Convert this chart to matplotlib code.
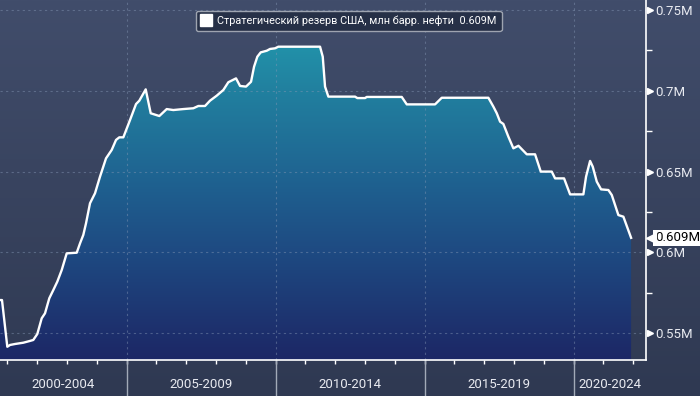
import numpy as np
import matplotlib
matplotlib.use("Agg")
import matplotlib.pyplot as plt
import matplotlib.transforms as mtransforms
from matplotlib.colors import LinearSegmentedColormap
from matplotlib.lines import Line2D

plt.rcParams["font.family"] = ["Roboto", "DejaVu Sans"]

# decimal year / reserve level (shown as "M")
YEARS = [2000.755, 2000.822, 2001.000, 2001.091, 2001.258, 2001.537, 2001.762, 2001.872,
         2002.007, 2002.154, 2002.265, 2002.409, 2002.544, 2002.678, 2002.826, 2002.993,
         2003.329, 2003.440, 2003.550, 2003.641, 2003.775, 2003.943, 2004.111, 2004.312,
         2004.503, 2004.648, 2004.758, 2004.893, 2005.117, 2005.319, 2005.430, 2005.644,
         2005.812, 2006.101, 2006.349, 2006.570, 2006.906, 2007.242, 2007.409, 2007.634,
         2007.802, 2008.027, 2008.248, 2008.416, 2008.674, 2008.809, 2009.010, 2009.178,
         2009.279, 2009.389, 2009.503, 2009.705, 2009.815, 2009.983, 2010.094, 2011.493,
         2011.584, 2011.661, 2011.772, 2012.668, 2012.745, 2013.003, 2013.060, 2014.235,
         2014.403, 2015.352, 2015.577, 2017.141, 2017.309, 2017.423, 2017.534, 2017.644,
         2017.812, 2017.980, 2018.150, 2018.430, 2018.708, 2018.899, 2019.268, 2019.379,
         2019.681, 2019.883, 2020.329, 2020.419, 2020.554, 2020.644, 2020.778, 2020.923,
         2021.168, 2021.282, 2021.503, 2021.671, 2021.930]
RESERVE = [0.5705, 0.5705, 0.5416, 0.5427, 0.5433, 0.5441, 0.5452, 0.5458,
           0.5495, 0.5592, 0.5623, 0.5716, 0.5767, 0.5819, 0.5891, 0.5994,
           0.5998, 0.6056, 0.6108, 0.6180, 0.6304, 0.6366, 0.6469, 0.6582,
           0.6634, 0.6696, 0.6712, 0.6712, 0.6819, 0.6918, 0.6939, 0.7009,
           0.6861, 0.6844, 0.6887, 0.6881, 0.6887, 0.6892, 0.6906, 0.6906,
           0.6939, 0.6970, 0.7005, 0.7053, 0.7077, 0.7030, 0.7026, 0.7056,
           0.7149, 0.7211, 0.7238, 0.7248, 0.7259, 0.7263, 0.7273, 0.7273,
           0.7211, 0.7026, 0.6964, 0.6964, 0.6955, 0.6955, 0.6962, 0.6962,
           0.6916, 0.6916, 0.6957, 0.6957, 0.6902, 0.6861, 0.6809, 0.6795,
           0.6716, 0.6644, 0.6660, 0.6607, 0.6607, 0.6500, 0.6500, 0.6458,
           0.6458, 0.6359, 0.6359, 0.6469, 0.6566, 0.6530, 0.6438, 0.6390,
           0.6386, 0.6355, 0.6231, 0.6221, 0.6090]

Y_TICKS = [0.55, 0.6, 0.65, 0.7, 0.75]
Y_LABELS = ["0.55M", "0.6M", "0.65M", "0.7M", "0.75M"]
Y_MINOR = [0.575, 0.625, 0.675, 0.725]
YEAR_TICKS = list(range(2001, 2023))
PERIODS = [(2000, 2004), (2005, 2009), (2010, 2014), (2015, 2019), (2020, 2024)]
SERIES_NAME = "Стратегический резерв США, млн барр. нефти"

XLIM = (2000.755, 2022.43)
YLIM = (0.5334, 0.7562)

fig = plt.figure(figsize=(7.0, 3.96), dpi=100)

# background gradient over the whole figure
bg = fig.add_axes([0, 0, 1, 1], zorder=0)
bg.axis("off")
bg_cmap = LinearSegmentedColormap.from_list("bg", ["#414d6b", "#2f3952"])
bg.imshow(np.linspace(0, 1, 256).reshape(-1, 1), cmap=bg_cmap, aspect="auto",
          extent=[0, 1, 0, 1])

ax = fig.add_axes([0, 36 / 396, 646 / 700, 360 / 396], zorder=1)
ax.patch.set_alpha(0)

# gradient fill under the line
poly = ax.fill_between(YEARS, RESERVE, YLIM[0], facecolor="none", edgecolor="none")
fill_cmap = LinearSegmentedColormap.from_list(
    "fill", [(0.0, "#2291a9"), (0.14, "#21809f"), (0.40, "#1f6592"),
             (0.655, "#1e4a82"), (0.91, "#1d306d"), (1.0, "#1c2766")])
im = ax.imshow(np.linspace(0, 1, 256).reshape(-1, 1), cmap=fill_cmap, aspect="auto",
               extent=[YEARS[0], YEARS[-1], YLIM[0], max(RESERVE)], zorder=1)
im.set_clip_path(poly.get_paths()[0], transform=ax.transData)

ax.plot(YEARS, RESERVE, color="white", lw=1.7, zorder=3, solid_joinstyle="round")

ax.set_xlim(*XLIM)
ax.set_ylim(*YLIM)

# grid (drawn over the fill, under the line)
grid_kw = dict(color="#8799b6", alpha=0.45, linestyle=(0, (2, 3)), lw=0.8, zorder=2)
for v in Y_TICKS:
    ax.axhline(v, **grid_kw)
for p in PERIODS[1:]:
    ax.axvline(p[0], **grid_kw)

for s in ["left", "top"]:
    ax.spines[s].set_visible(False)
for s in ["bottom", "right"]:
    ax.spines[s].set_color("white")
    ax.spines[s].set_linewidth(1.2)

# y axis on the right
ax.yaxis.tick_right()
ax.set_yticks(Y_TICKS)
ax.set_yticklabels(Y_LABELS)
ax.set_yticks(Y_MINOR, minor=True)
ax.tick_params(axis="y", which="major", length=0, pad=7, labelcolor="#e8eaf0", labelsize=9.5)
ax.tick_params(axis="y", which="minor", length=4, width=1, color="white")
tri = mtransforms.blended_transform_factory(ax.transAxes, ax.transData) + \
    mtransforms.ScaledTranslation(4 / 100, 0, fig.dpi_scale_trans)
for v in Y_TICKS:
    ax.plot([1.0], [v], marker=">", color="white", markersize=5, transform=tri,
            clip_on=False, zorder=5)

# x axis: year ticks + period separators and labels
ax.set_xticks([])
ax.set_xticks(YEAR_TICKS, minor=True)
ax.tick_params(axis="x", which="minor", length=3, width=1, color="white", direction="out")
xb = mtransforms.blended_transform_factory(ax.transData, ax.transAxes)
for p in PERIODS[1:]:
    ax.plot([p[0], p[0]], [0, -36 / 360], color="#a2aab8", lw=1, transform=xb, clip_on=False)
for a, b in PERIODS:
    lo, hi = max(a, XLIM[0]), min(b + 1, XLIM[1])
    ax.text((lo + hi) / 2, -25 / 360, f"{a}-{b}", transform=xb, ha="center", va="center",
            fontsize=9.5, color="#e8eaf0")

# last value tag
last = RESERVE[-1]
tag = mtransforms.blended_transform_factory(ax.transAxes, ax.transData) + \
    mtransforms.ScaledTranslation(9 / 100, 0, fig.dpi_scale_trans)
ax.text(1.0, last, f"{last:.3f}M", transform=tag, ha="left", va="center", fontsize=9.5,
        color="black", bbox=dict(boxstyle="square,pad=0.12", fc="white", ec="none"),
        zorder=6, clip_on=False)
arrow = mtransforms.blended_transform_factory(ax.transAxes, ax.transData) + \
    mtransforms.ScaledTranslation(5 / 100, 0, fig.dpi_scale_trans)
ax.plot([1.0], [last], marker="<", color="white", markersize=7, transform=arrow,
        clip_on=False, zorder=6)

# legend
handle = Line2D([], [], marker="s", color="white", linestyle="none", markersize=8)
leg = ax.legend([handle], [f"{SERIES_NAME}  {last:.3f}M"], loc="upper center",
                bbox_to_anchor=(0.54, 0.985), frameon=True, facecolor="#263047",
                edgecolor="#9ea4b0", labelcolor="white", fontsize=7.8, handlelength=1,
                handletextpad=0.5, borderpad=0.45, fancybox=True, framealpha=1)
leg.set_zorder(7)

fig.savefig("out.png", dpi=100)
